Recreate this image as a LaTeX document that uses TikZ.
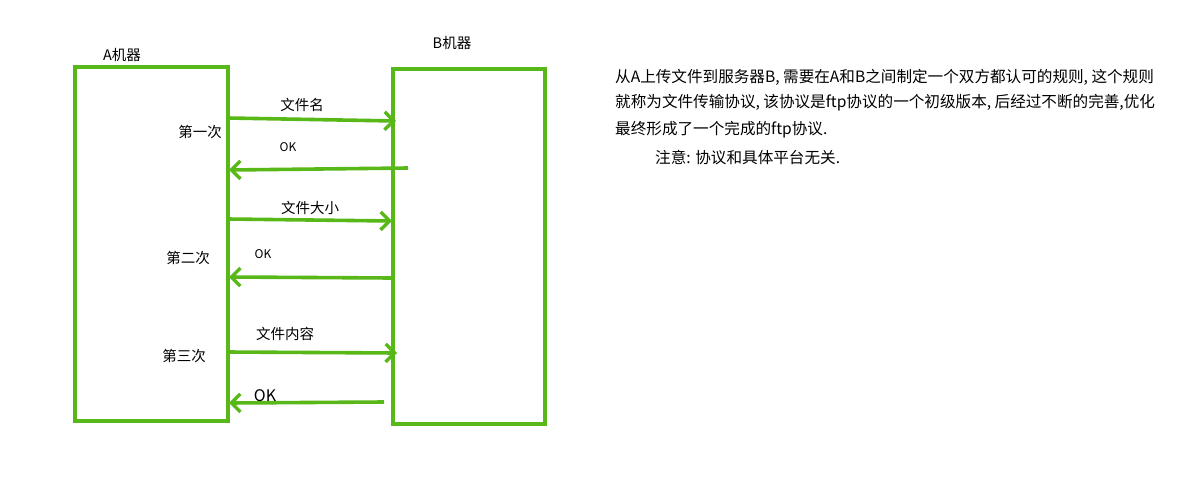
\documentclass[tikz,border=0pt]{standalone}
\usepackage{fontspec}
\setmainfont{Noto Sans CJK SC}
\usetikzlibrary{arrows.meta,positioning}
\definecolor{linegreen}{RGB}{88,184,24}

\tikzset{
  machine/.style={draw=linegreen, line width=3.8pt, minimum width=#1, inner sep=0pt},
  msg/.style={draw=linegreen, line width=3.6pt, -{Straight Barb[length=9pt,width=18pt,line width=3.4pt]}},
  lbl/.style={font=\fontsize{14.5}{17}\selectfont, inner sep=0pt},
  oklbl/.style={font=\fontsize{12}{14}\selectfont, inner sep=0pt},
  note/.style={font=\fontsize{15.6}{18}\selectfont, inner sep=0pt, anchor=west}
}

\begin{document}
\begin{tikzpicture}[x=1pt,y=-1pt]
    \useasboundingbox (0,0) rectangle (1178,480);

    % 两台机器
    \node[machine=153pt, minimum height=354pt] (A) at (151.5,244) {};
    \node[machine=152pt, minimum height=355pt] (B) at (469,246.5) {};
    \node[lbl] (Aname) at (122,55) {A机器};
    \node[lbl] (Bname) at (452,43) {B机器};

    % 第一次: 文件名
    \coordinate (s1) at (228,118);  \coordinate (e1) at (396,121);
    \coordinate (s2) at (408,168);  \coordinate (e2) at (229,170);
    \draw[msg] (s1) -- (e1);
    \draw[msg] (s2) -- (e2);
    \node[lbl] (t1) at (302,105) {文件名};
    \node[oklbl] (ok1) at (288,147) {OK};
    \node[lbl] (n1) at (200,132) {第一次};

    % 第二次: 文件大小
    \coordinate (s3) at (228,219);  \coordinate (e3) at (392,221);
    \coordinate (s4) at (392,278);  \coordinate (e4) at (229,277);
    \draw[msg] (s3) -- (e3);
    \draw[msg] (s4) -- (e4);
    \node[lbl] (t2) at (310,208) {文件大小};
    \node[oklbl] (ok2) at (263,254) {OK};
    \node[lbl] (n2) at (188,258) {第二次};

    % 第三次: 文件内容
    \coordinate (s5) at (228,352);  \coordinate (e5) at (397,353);
    \coordinate (s6) at (384,402);  \coordinate (e6) at (229,403);
    \draw[msg] (s5) -- (e5);
    \draw[msg] (s6) -- (e6);
    \node[lbl] (t3) at (285,334) {文件内容};
    \node[font=\fontsize{16}{18}\selectfont, inner sep=0pt] (ok3) at (265,396) {OK};
    \node[lbl] (n3) at (184,356) {第三次};

    % 右侧说明
    \node[note] (line1) at (615,77) {从A上传文件到服务器B, 需要在A和B之间制定一个双方都认可的规则, 这个规则};
    \node[note] (line2) at (615,103) {就称为文件传输协议, 该协议是ftp协议的一个初级版本, 后经过不断的完善,优化};
    \node[note] (line3) at (615,130) {最终形成了一个完成的ftp协议.};
    \node[note] (line4) at (655,158) {注意: 协议和具体平台无关.};
\end{tikzpicture}
\end{document}
